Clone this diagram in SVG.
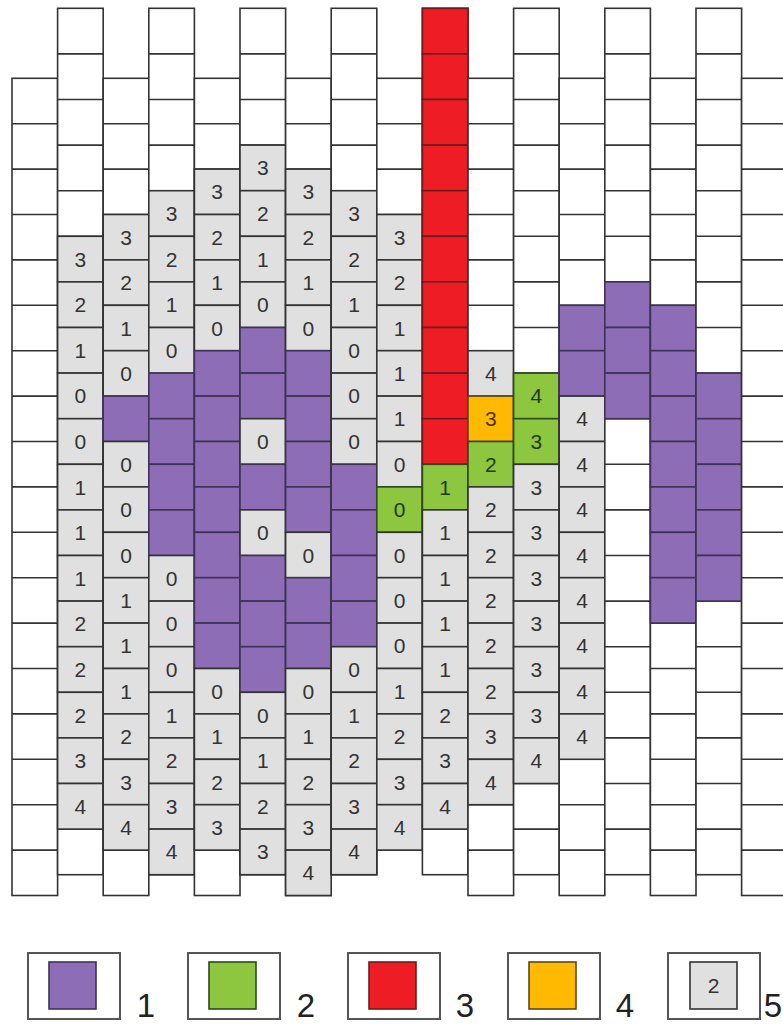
<svg xmlns="http://www.w3.org/2000/svg" xmlns:xlink="http://www.w3.org/1999/xlink" width="783" height="1025" viewBox="0 0 783 1025">
<style>
.w{fill:#fff;stroke:#333;stroke-width:1.6}
.ln{stroke:#333;stroke-width:1.6;fill:none}
.g{fill:#e0e0e0;stroke:#333;stroke-width:1.6}
.p{fill:#8d6db5;stroke:#3e3356;stroke-width:1.6}
.gn{fill:#8dc63f;stroke:#2f4a1c;stroke-width:1.6}
.r{fill:#ee1c24;stroke:#6b1d1d;stroke-width:1.6}
.o{fill:#ffb900;stroke:#5a4a1a;stroke-width:1.6}
.t{font-family:"Liberation Sans",Arial,sans-serif;font-size:21px;fill:#333;text-anchor:middle}
.tg{fill:#1f3a14}
.to{fill:#4a3400}
.lb{fill:#fff;stroke:#555;stroke-width:2}
.lt{font-family:"Liberation Sans",Arial,sans-serif;font-size:33px;fill:#222;text-anchor:middle}
</style>
<defs>
<g id="colOdd">
<rect class="w" x="0" y="8.3" width="45.6" height="866.4"/>
<path class="ln" d="M0 53.9H45.6M0 99.5H45.6M0 145.1H45.6M0 190.7H45.6M0 236.3H45.6M0 281.9H45.6M0 327.5H45.6M0 373.1H45.6M0 418.7H45.6M0 464.3H45.6M0 509.9H45.6M0 555.5H45.6M0 601.1H45.6M0 646.7H45.6M0 692.3H45.6M0 737.9H45.6M0 783.5H45.6M0 829.1H45.6"/>
</g>
<g id="colEven">
<rect class="w" x="0" y="78.3" width="45.6" height="817.2"/>
<path class="ln" d="M0 123.7H45.6M0 169.1H45.6M0 214.5H45.6M0 259.9H45.6M0 305.3H45.6M0 350.7H45.6M0 396.1H45.6M0 441.5H45.6M0 486.9H45.6M0 532.3H45.6M0 577.7H45.6M0 623.1H45.6M0 668.5H45.6M0 713.9H45.6M0 759.3H45.6M0 804.7H45.6M0 850.1H45.6"/>
</g>
</defs>
<rect width="783" height="1025" fill="#fff"/>

<g id="col0" transform="translate(12,0)"><use xlink:href="#colEven"/></g>

<g id="col1" transform="translate(57.6,0)">
<use xlink:href="#colOdd"/>
<rect class="g" y="236.3" width="45.6" height="45.6"/><text class="t" x="22.8" y="266.6">3</text>
<rect class="g" y="281.9" width="45.6" height="45.6"/><text class="t" x="22.8" y="312.2">2</text>
<rect class="g" y="327.5" width="45.6" height="45.6"/><text class="t" x="22.8" y="357.8">1</text>
<rect class="g" y="373.1" width="45.6" height="45.6"/><text class="t" x="22.8" y="403.4">0</text>
<rect class="g" y="418.7" width="45.6" height="45.6"/><text class="t" x="22.8" y="449">0</text>
<rect class="g" y="464.3" width="45.6" height="45.6"/><text class="t" x="22.8" y="494.6">1</text>
<rect class="g" y="509.9" width="45.6" height="45.6"/><text class="t" x="22.8" y="540.2">1</text>
<rect class="g" y="555.5" width="45.6" height="45.6"/><text class="t" x="22.8" y="585.8">1</text>
<rect class="g" y="601.1" width="45.6" height="45.6"/><text class="t" x="22.8" y="631.4">2</text>
<rect class="g" y="646.7" width="45.6" height="45.6"/><text class="t" x="22.8" y="677">2</text>
<rect class="g" y="692.3" width="45.6" height="45.6"/><text class="t" x="22.8" y="722.6">2</text>
<rect class="g" y="737.9" width="45.6" height="45.6"/><text class="t" x="22.8" y="768.2">3</text>
<rect class="g" y="783.5" width="45.6" height="45.6"/><text class="t" x="22.8" y="813.8">4</text>
</g>

<g id="col2" transform="translate(103.2,0)">
<use xlink:href="#colEven"/>
<rect class="g" y="214.5" width="45.6" height="45.4"/><text class="t" x="22.8" y="244.7">3</text>
<rect class="g" y="259.9" width="45.6" height="45.4"/><text class="t" x="22.8" y="290.1">2</text>
<rect class="g" y="305.3" width="45.6" height="45.4"/><text class="t" x="22.8" y="335.5">1</text>
<rect class="g" y="350.7" width="45.6" height="45.4"/><text class="t" x="22.8" y="380.9">0</text>
<rect class="p" y="396.1" width="45.6" height="45.4"/>
<rect class="g" y="441.5" width="45.6" height="45.4"/><text class="t" x="22.8" y="471.7">0</text>
<rect class="g" y="486.9" width="45.6" height="45.4"/><text class="t" x="22.8" y="517.1">0</text>
<rect class="g" y="532.3" width="45.6" height="45.4"/><text class="t" x="22.8" y="562.5">0</text>
<rect class="g" y="577.7" width="45.6" height="45.4"/><text class="t" x="22.8" y="607.9">1</text>
<rect class="g" y="623.1" width="45.6" height="45.4"/><text class="t" x="22.8" y="653.3">1</text>
<rect class="g" y="668.5" width="45.6" height="45.4"/><text class="t" x="22.8" y="698.7">1</text>
<rect class="g" y="713.9" width="45.6" height="45.4"/><text class="t" x="22.8" y="744.1">2</text>
<rect class="g" y="759.3" width="45.6" height="45.4"/><text class="t" x="22.8" y="789.5">3</text>
<rect class="g" y="804.7" width="45.6" height="45.4"/><text class="t" x="22.8" y="834.9">4</text>
</g>

<g id="col3" transform="translate(148.8,0)">
<use xlink:href="#colOdd"/>
<rect class="g" y="190.7" width="45.6" height="45.6"/><text class="t" x="22.8" y="221">3</text>
<rect class="g" y="236.3" width="45.6" height="45.6"/><text class="t" x="22.8" y="266.6">2</text>
<rect class="g" y="281.9" width="45.6" height="45.6"/><text class="t" x="22.8" y="312.2">1</text>
<rect class="g" y="327.5" width="45.6" height="45.6"/><text class="t" x="22.8" y="357.8">0</text>
<rect class="p" y="373.1" width="45.6" height="45.6"/>
<rect class="p" y="418.7" width="45.6" height="45.6"/>
<rect class="p" y="464.3" width="45.6" height="45.6"/>
<rect class="p" y="509.9" width="45.6" height="45.6"/>
<rect class="g" y="555.5" width="45.6" height="45.6"/><text class="t" x="22.8" y="585.8">0</text>
<rect class="g" y="601.1" width="45.6" height="45.6"/><text class="t" x="22.8" y="631.4">0</text>
<rect class="g" y="646.7" width="45.6" height="45.6"/><text class="t" x="22.8" y="677">0</text>
<rect class="g" y="692.3" width="45.6" height="45.6"/><text class="t" x="22.8" y="722.6">1</text>
<rect class="g" y="737.9" width="45.6" height="45.6"/><text class="t" x="22.8" y="768.2">2</text>
<rect class="g" y="783.5" width="45.6" height="45.6"/><text class="t" x="22.8" y="813.8">3</text>
<rect class="g" y="829.1" width="45.6" height="45.6"/><text class="t" x="22.8" y="859.4">4</text>
</g>

<g id="col4" transform="translate(194.4,0)">
<use xlink:href="#colEven"/>
<rect class="g" y="169.1" width="45.6" height="45.4"/><text class="t" x="22.8" y="199.3">3</text>
<rect class="g" y="214.5" width="45.6" height="45.4"/><text class="t" x="22.8" y="244.7">2</text>
<rect class="g" y="259.9" width="45.6" height="45.4"/><text class="t" x="22.8" y="290.1">1</text>
<rect class="g" y="305.3" width="45.6" height="45.4"/><text class="t" x="22.8" y="335.5">0</text>
<rect class="p" y="350.7" width="45.6" height="45.4"/>
<rect class="p" y="396.1" width="45.6" height="45.4"/>
<rect class="p" y="441.5" width="45.6" height="45.4"/>
<rect class="p" y="486.9" width="45.6" height="45.4"/>
<rect class="p" y="532.3" width="45.6" height="45.4"/>
<rect class="p" y="577.7" width="45.6" height="45.4"/>
<rect class="p" y="623.1" width="45.6" height="45.4"/>
<rect class="g" y="668.5" width="45.6" height="45.4"/><text class="t" x="22.8" y="698.7">0</text>
<rect class="g" y="713.9" width="45.6" height="45.4"/><text class="t" x="22.8" y="744.1">1</text>
<rect class="g" y="759.3" width="45.6" height="45.4"/><text class="t" x="22.8" y="789.5">2</text>
<rect class="g" y="804.7" width="45.6" height="45.4"/><text class="t" x="22.8" y="834.9">3</text>
</g>

<g id="col5" transform="translate(240,0)">
<use xlink:href="#colOdd"/>
<rect class="g" y="145.1" width="45.6" height="45.6"/><text class="t" x="22.8" y="175.4">3</text>
<rect class="g" y="190.7" width="45.6" height="45.6"/><text class="t" x="22.8" y="221">2</text>
<rect class="g" y="236.3" width="45.6" height="45.6"/><text class="t" x="22.8" y="266.6">1</text>
<rect class="g" y="281.9" width="45.6" height="45.6"/><text class="t" x="22.8" y="312.2">0</text>
<rect class="p" y="327.5" width="45.6" height="45.6"/>
<rect class="p" y="373.1" width="45.6" height="45.6"/>
<rect class="g" y="418.7" width="45.6" height="45.6"/><text class="t" x="22.8" y="449">0</text>
<rect class="p" y="464.3" width="45.6" height="45.6"/>
<rect class="g" y="509.9" width="45.6" height="45.6"/><text class="t" x="22.8" y="540.2">0</text>
<rect class="p" y="555.5" width="45.6" height="45.6"/>
<rect class="p" y="601.1" width="45.6" height="45.6"/>
<rect class="p" y="646.7" width="45.6" height="45.6"/>
<rect class="g" y="692.3" width="45.6" height="45.6"/><text class="t" x="22.8" y="722.6">0</text>
<rect class="g" y="737.9" width="45.6" height="45.6"/><text class="t" x="22.8" y="768.2">1</text>
<rect class="g" y="783.5" width="45.6" height="45.6"/><text class="t" x="22.8" y="813.8">2</text>
<rect class="g" y="829.1" width="45.6" height="45.6"/><text class="t" x="22.8" y="859.4">3</text>
</g>

<g id="col6" transform="translate(285.6,0)">
<use xlink:href="#colEven"/>
<rect class="g" y="169.1" width="45.6" height="45.4"/><text class="t" x="22.8" y="199.3">3</text>
<rect class="g" y="214.5" width="45.6" height="45.4"/><text class="t" x="22.8" y="244.7">2</text>
<rect class="g" y="259.9" width="45.6" height="45.4"/><text class="t" x="22.8" y="290.1">1</text>
<rect class="g" y="305.3" width="45.6" height="45.4"/><text class="t" x="22.8" y="335.5">0</text>
<rect class="p" y="350.7" width="45.6" height="45.4"/>
<rect class="p" y="396.1" width="45.6" height="45.4"/>
<rect class="p" y="441.5" width="45.6" height="45.4"/>
<rect class="p" y="486.9" width="45.6" height="45.4"/>
<rect class="g" y="532.3" width="45.6" height="45.4"/><text class="t" x="22.8" y="562.5">0</text>
<rect class="p" y="577.7" width="45.6" height="45.4"/>
<rect class="p" y="623.1" width="45.6" height="45.4"/>
<rect class="g" y="668.5" width="45.6" height="45.4"/><text class="t" x="22.8" y="698.7">0</text>
<rect class="g" y="713.9" width="45.6" height="45.4"/><text class="t" x="22.8" y="744.1">1</text>
<rect class="g" y="759.3" width="45.6" height="45.4"/><text class="t" x="22.8" y="789.5">2</text>
<rect class="g" y="804.7" width="45.6" height="45.4"/><text class="t" x="22.8" y="834.9">3</text>
<rect class="g" y="850.1" width="45.6" height="45.4"/><text class="t" x="22.8" y="880.3">4</text>
</g>

<g id="col7" transform="translate(331.2,0)">
<use xlink:href="#colOdd"/>
<rect class="g" y="190.7" width="45.6" height="45.6"/><text class="t" x="22.8" y="221">3</text>
<rect class="g" y="236.3" width="45.6" height="45.6"/><text class="t" x="22.8" y="266.6">2</text>
<rect class="g" y="281.9" width="45.6" height="45.6"/><text class="t" x="22.8" y="312.2">1</text>
<rect class="g" y="327.5" width="45.6" height="45.6"/><text class="t" x="22.8" y="357.8">0</text>
<rect class="g" y="373.1" width="45.6" height="45.6"/><text class="t" x="22.8" y="403.4">0</text>
<rect class="g" y="418.7" width="45.6" height="45.6"/><text class="t" x="22.8" y="449">0</text>
<rect class="p" y="464.3" width="45.6" height="45.6"/>
<rect class="p" y="509.9" width="45.6" height="45.6"/>
<rect class="p" y="555.5" width="45.6" height="45.6"/>
<rect class="p" y="601.1" width="45.6" height="45.6"/>
<rect class="g" y="646.7" width="45.6" height="45.6"/><text class="t" x="22.8" y="677">0</text>
<rect class="g" y="692.3" width="45.6" height="45.6"/><text class="t" x="22.8" y="722.6">1</text>
<rect class="g" y="737.9" width="45.6" height="45.6"/><text class="t" x="22.8" y="768.2">2</text>
<rect class="g" y="783.5" width="45.6" height="45.6"/><text class="t" x="22.8" y="813.8">3</text>
<rect class="g" y="829.1" width="45.6" height="45.6"/><text class="t" x="22.8" y="859.4">4</text>
</g>

<g id="col8" transform="translate(376.8,0)">
<rect class="w" x="0" y="78.3" width="45.6" height="771.8"/>
<path class="ln" d="M0 123.7H45.6M0 169.1H45.6M0 214.5H45.6M0 259.9H45.6M0 305.3H45.6M0 350.7H45.6M0 396.1H45.6M0 441.5H45.6M0 486.9H45.6M0 532.3H45.6M0 577.7H45.6M0 623.1H45.6M0 668.5H45.6M0 713.9H45.6M0 759.3H45.6M0 804.7H45.6"/>
<rect class="g" y="214.5" width="45.6" height="45.4"/><text class="t" x="22.8" y="244.7">3</text>
<rect class="g" y="259.9" width="45.6" height="45.4"/><text class="t" x="22.8" y="290.1">2</text>
<rect class="g" y="305.3" width="45.6" height="45.4"/><text class="t" x="22.8" y="335.5">1</text>
<rect class="g" y="350.7" width="45.6" height="45.4"/><text class="t" x="22.8" y="380.9">1</text>
<rect class="g" y="396.1" width="45.6" height="45.4"/><text class="t" x="22.8" y="426.3">1</text>
<rect class="g" y="441.5" width="45.6" height="45.4"/><text class="t" x="22.8" y="471.7">0</text>
<rect class="gn" y="486.9" width="45.6" height="45.4"/><text class="t tg" x="22.8" y="517.1">0</text>
<rect class="g" y="532.3" width="45.6" height="45.4"/><text class="t" x="22.8" y="562.5">0</text>
<rect class="g" y="577.7" width="45.6" height="45.4"/><text class="t" x="22.8" y="607.9">0</text>
<rect class="g" y="623.1" width="45.6" height="45.4"/><text class="t" x="22.8" y="653.3">0</text>
<rect class="g" y="668.5" width="45.6" height="45.4"/><text class="t" x="22.8" y="698.7">1</text>
<rect class="g" y="713.9" width="45.6" height="45.4"/><text class="t" x="22.8" y="744.1">2</text>
<rect class="g" y="759.3" width="45.6" height="45.4"/><text class="t" x="22.8" y="789.5">3</text>
<rect class="g" y="804.7" width="45.6" height="45.4"/><text class="t" x="22.8" y="834.9">4</text>
</g>

<g id="col9" transform="translate(422.4,0)">
<use xlink:href="#colOdd"/>
<rect class="r" y="8.3" width="45.6" height="45.6"/>
<rect class="r" y="53.9" width="45.6" height="45.6"/>
<rect class="r" y="99.5" width="45.6" height="45.6"/>
<rect class="r" y="145.1" width="45.6" height="45.6"/>
<rect class="r" y="190.7" width="45.6" height="45.6"/>
<rect class="r" y="236.3" width="45.6" height="45.6"/>
<rect class="r" y="281.9" width="45.6" height="45.6"/>
<rect class="r" y="327.5" width="45.6" height="45.6"/>
<rect class="r" y="373.1" width="45.6" height="45.6"/>
<rect class="r" y="418.7" width="45.6" height="45.6"/>
<rect class="gn" y="464.3" width="45.6" height="45.6"/><text class="t tg" x="22.8" y="494.6">1</text>
<rect class="g" y="509.9" width="45.6" height="45.6"/><text class="t" x="22.8" y="540.2">1</text>
<rect class="g" y="555.5" width="45.6" height="45.6"/><text class="t" x="22.8" y="585.8">1</text>
<rect class="g" y="601.1" width="45.6" height="45.6"/><text class="t" x="22.8" y="631.4">1</text>
<rect class="g" y="646.7" width="45.6" height="45.6"/><text class="t" x="22.8" y="677">1</text>
<rect class="g" y="692.3" width="45.6" height="45.6"/><text class="t" x="22.8" y="722.6">2</text>
<rect class="g" y="737.9" width="45.6" height="45.6"/><text class="t" x="22.8" y="768.2">3</text>
<rect class="g" y="783.5" width="45.6" height="45.6"/><text class="t" x="22.8" y="813.8">4</text>
</g>

<g id="col10" transform="translate(468,0)">
<use xlink:href="#colEven"/>
<rect class="g" y="350.7" width="45.6" height="45.4"/><text class="t" x="22.8" y="380.9">4</text>
<rect class="o" y="396.1" width="45.6" height="45.4"/><text class="t to" x="22.8" y="426.3">3</text>
<rect class="gn" y="441.5" width="45.6" height="45.4"/><text class="t tg" x="22.8" y="471.7">2</text>
<rect class="g" y="486.9" width="45.6" height="45.4"/><text class="t" x="22.8" y="517.1">2</text>
<rect class="g" y="532.3" width="45.6" height="45.4"/><text class="t" x="22.8" y="562.5">2</text>
<rect class="g" y="577.7" width="45.6" height="45.4"/><text class="t" x="22.8" y="607.9">2</text>
<rect class="g" y="623.1" width="45.6" height="45.4"/><text class="t" x="22.8" y="653.3">2</text>
<rect class="g" y="668.5" width="45.6" height="45.4"/><text class="t" x="22.8" y="698.7">2</text>
<rect class="g" y="713.9" width="45.6" height="45.4"/><text class="t" x="22.8" y="744.1">3</text>
<rect class="g" y="759.3" width="45.6" height="45.4"/><text class="t" x="22.8" y="789.5">4</text>
</g>

<g id="col11" transform="translate(513.6,0)">
<use xlink:href="#colOdd"/>
<rect class="gn" y="373.1" width="45.6" height="45.6"/><text class="t tg" x="22.8" y="403.4">4</text>
<rect class="gn" y="418.7" width="45.6" height="45.6"/><text class="t tg" x="22.8" y="449">3</text>
<rect class="g" y="464.3" width="45.6" height="45.6"/><text class="t" x="22.8" y="494.6">3</text>
<rect class="g" y="509.9" width="45.6" height="45.6"/><text class="t" x="22.8" y="540.2">3</text>
<rect class="g" y="555.5" width="45.6" height="45.6"/><text class="t" x="22.8" y="585.8">3</text>
<rect class="g" y="601.1" width="45.6" height="45.6"/><text class="t" x="22.8" y="631.4">3</text>
<rect class="g" y="646.7" width="45.6" height="45.6"/><text class="t" x="22.8" y="677">3</text>
<rect class="g" y="692.3" width="45.6" height="45.6"/><text class="t" x="22.8" y="722.6">3</text>
<rect class="g" y="737.9" width="45.6" height="45.6"/><text class="t" x="22.8" y="768.2">4</text>
</g>

<g id="col12" transform="translate(559.2,0)">
<use xlink:href="#colEven"/>
<rect class="p" y="305.3" width="45.6" height="45.4"/>
<rect class="p" y="350.7" width="45.6" height="45.4"/>
<rect class="g" y="396.1" width="45.6" height="45.4"/><text class="t" x="22.8" y="426.3">4</text>
<rect class="g" y="441.5" width="45.6" height="45.4"/><text class="t" x="22.8" y="471.7">4</text>
<rect class="g" y="486.9" width="45.6" height="45.4"/><text class="t" x="22.8" y="517.1">4</text>
<rect class="g" y="532.3" width="45.6" height="45.4"/><text class="t" x="22.8" y="562.5">4</text>
<rect class="g" y="577.7" width="45.6" height="45.4"/><text class="t" x="22.8" y="607.9">4</text>
<rect class="g" y="623.1" width="45.6" height="45.4"/><text class="t" x="22.8" y="653.3">4</text>
<rect class="g" y="668.5" width="45.6" height="45.4"/><text class="t" x="22.8" y="698.7">4</text>
<rect class="g" y="713.9" width="45.6" height="45.4"/><text class="t" x="22.8" y="744.1">4</text>
</g>

<g id="col13" transform="translate(604.8,0)">
<use xlink:href="#colOdd"/>
<rect class="p" y="281.9" width="45.6" height="45.6"/>
<rect class="p" y="327.5" width="45.6" height="45.6"/>
<rect class="p" y="373.1" width="45.6" height="45.6"/>
</g>

<g id="col14" transform="translate(650.4,0)">
<use xlink:href="#colEven"/>
<rect class="p" y="305.3" width="45.6" height="45.4"/>
<rect class="p" y="350.7" width="45.6" height="45.4"/>
<rect class="p" y="396.1" width="45.6" height="45.4"/>
<rect class="p" y="441.5" width="45.6" height="45.4"/>
<rect class="p" y="486.9" width="45.6" height="45.4"/>
<rect class="p" y="532.3" width="45.6" height="45.4"/>
<rect class="p" y="577.7" width="45.6" height="45.4"/>
</g>

<g id="col15" transform="translate(696,0)">
<use xlink:href="#colOdd"/>
<rect class="p" y="373.1" width="45.6" height="45.6"/>
<rect class="p" y="418.7" width="45.6" height="45.6"/>
<rect class="p" y="464.3" width="45.6" height="45.6"/>
<rect class="p" y="509.9" width="45.6" height="45.6"/>
<rect class="p" y="555.5" width="45.6" height="45.6"/>
</g>

<g id="col16" transform="translate(741.6,0)"><use xlink:href="#colEven"/></g>

<g id="legend">
<g id="leg1"><rect class="lb" x="28" y="953" width="92" height="66"/><rect class="p" x="49" y="962" width="47" height="47" stroke-width="2"/><text class="lt" x="146" y="1017">1</text></g>
<g id="leg2"><rect class="lb" x="188" y="953" width="92" height="66"/><rect class="gn" x="209" y="962" width="47" height="47" stroke-width="2"/><text class="lt" x="306" y="1017">2</text></g>
<g id="leg3"><rect class="lb" x="348" y="953" width="92" height="66"/><rect class="r" x="369" y="962" width="47" height="47" stroke-width="2"/><text class="lt" x="465" y="1017">3</text></g>
<g id="leg4"><rect class="lb" x="508" y="953" width="92" height="66"/><rect class="o" x="529" y="962" width="47" height="47" stroke-width="2"/><text class="lt" x="625" y="1017">4</text></g>
<g id="leg5"><rect class="lb" x="668" y="953" width="92" height="66"/><rect class="g" x="690" y="962" width="47" height="47" stroke="#222" stroke-width="2.5"/><text class="t" x="713.5" y="993">2</text><text class="lt" x="773" y="1017">5</text></g>
</g>
</svg>
